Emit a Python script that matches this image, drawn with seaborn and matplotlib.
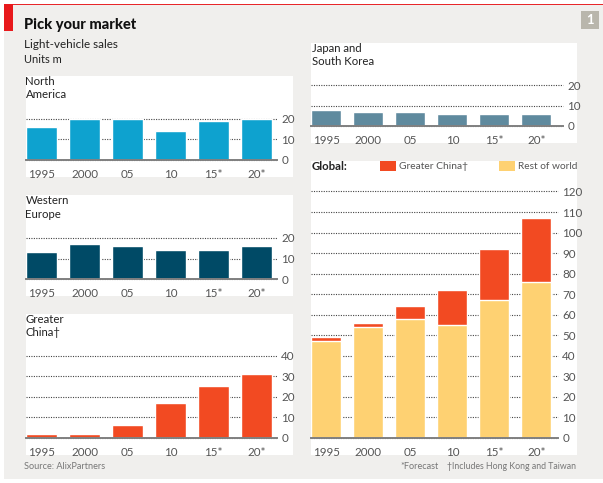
import matplotlib
matplotlib.use('Agg')
import matplotlib.pyplot as plt
from matplotlib.patches import Rectangle
import pandas as pd
import seaborn as sns

years = ['1995', '2000', '05', '10', '15*', '20*']
north_america = [16, 20, 20, 14, 19, 20]
western_europe = [13, 17, 16, 14, 14, 16]
greater_china = [2, 2, 6, 17, 25, 31]
japan_korea = [8, 7, 7, 6, 6, 6]
rest_of_world = [47, 54, 58, 55, 67, 76]

W, H = 603, 483
BG = '#f0efed'
TXT = '#222222'
GREY = '#555555'

sns.set_theme(style='white')
plt.rcParams['font.family'] = ['Lato', 'DejaVu Sans']

fig = plt.figure(figsize=(W / 100, H / 100), dpi=100, facecolor='white')


def box(x0, y0, x1, y1, color, z=-1):
    # pixel box, y measured from the top
    fig.add_artist(Rectangle((x0 / W, 1 - y1 / H), (x1 - x0) / W, (y1 - y0) / H,
                             transform=fig.transFigure, color=color, lw=0, zorder=z))


def label(x, y, s, **kw):
    kw.setdefault('color', TXT)
    kw.setdefault('fontsize', 8.2)
    fig.text(x / W, 1 - y / H, s, va='center', **kw)


def panel(x0, x1, spacing, y_zero, y_top, top, step, values, color, bottom=None, bottom_color=None):
    ax = fig.add_axes([x0 / W, 1 - y_zero / H, (x1 - x0) / W, (y_zero - y_top) / H])
    ax.patch.set_alpha(0)
    df = pd.DataFrame({'year': years, 'value': values})
    if bottom is not None:
        df['value'] = [a + b for a, b in zip(values, bottom)]
    sns.barplot(data=df, x='year', y='value', color=color, width=0.71, saturation=1,
                ax=ax, zorder=3)
    if bottom is not None:
        df2 = pd.DataFrame({'year': years, 'value': bottom})
        sns.barplot(data=df2, x='year', y='value', color=bottom_color, width=0.71,
                    saturation=1, ax=ax, zorder=4)
    ax.set_xlim(-0.365, (x1 - x0) / spacing - 0.365)
    ax.set_ylim(0, top)
    ax.set_xlabel('')
    ax.set_ylabel('')
    ax.set_yticks(range(0, top + 1, step))
    ax.yaxis.tick_right()
    ax.grid(axis='y', color='#444444', ls=(0, (1, 1.2)), lw=0.8, zorder=1)
    ax.set_axisbelow(True)
    ax.tick_params(axis='y', length=0, pad=3, labelsize=8.4, labelcolor=GREY)
    ax.tick_params(axis='x', length=0, pad=6.5, labelsize=8.4, labelcolor=GREY)
    for g in ax.get_ygridlines():
        g.set_clip_on(False)
    for s in ['top', 'left', 'right']:
        ax.spines[s].set_visible(False)
    ax.spines['bottom'].set_color('#808080')
    ax.spines['bottom'].set_linewidth(1.4)
    ax.spines['bottom'].set_zorder(6)
    return ax


# page furniture
box(4, 4, W, 479, BG, z=-3)
box(4, 4, W, 5, '#e8262a')
box(4, 4, 13, 31, '#e8191c')
box(581, 11, 599, 29, '#b9b6ac')
label(590, 20, '1', color='white', fontsize=9.5, fontweight='bold', ha='center')

label(24, 25.5, 'Pick your market', fontsize=10.5, fontweight='black', color='#111111')
label(24, 45, 'Light-vehicle sales', fontsize=8.4)
label(24, 59.5, 'Units m', fontsize=8)

# white panels
box(26, 76, 293, 177, 'white', z=-2)
box(26, 195, 293, 296, 'white', z=-2)
box(26, 314, 293, 455, 'white', z=-2)
box(311, 43, 577, 143, 'white', z=-2)
box(311, 161, 577, 455, 'white', z=-2)

panel(26, 277, 43, 160, 118.5, 20, 10, north_america, '#0ea2cf')
panel(26, 277, 43, 279, 238, 20, 10, western_europe, '#004a66')
panel(26, 277, 43, 437.7, 355.7, 40, 10, greater_china, '#f24a22')
panel(311, 563, 42, 126, 85, 20, 10, japan_korea, '#5f8a9e')
panel(311, 558, 42, 437.7, 191.5, 120, 10, greater_china, '#f24a22',
      bottom=rest_of_world, bottom_color='#fed172')

# panel headings
label(25.5, 81.5, 'North')
label(25.5, 95, 'America')
label(25.5, 200.5, 'Western')
label(25.5, 214, 'Europe')
label(25.5, 319.5, 'Greater')
label(25.5, 333, 'China†')
label(311.5, 48, 'Japan and')
label(311.5, 61.5, 'South Korea')
label(311.5, 166.5, 'Global:', fontweight='bold')

# legend
box(380, 161, 396, 171, '#f24a22', z=1)
label(399, 166.5, 'Greater China†', color=GREY, fontsize=7.4)
box(499, 161, 515, 171, '#fed172', z=1)
label(518, 166.5, 'Rest of world', color=GREY, fontsize=7.3)

# footnotes
label(24, 466.5, 'Source: AlixPartners', fontsize=6.6, color='#777777')
label(400, 466.5, '*Forecast', fontsize=6.6, color='#777777')
label(447, 466.5, '†Includes Hong Kong and Taiwan', fontsize=6.35, color='#777777')

fig.savefig('out.png', dpi=100)
